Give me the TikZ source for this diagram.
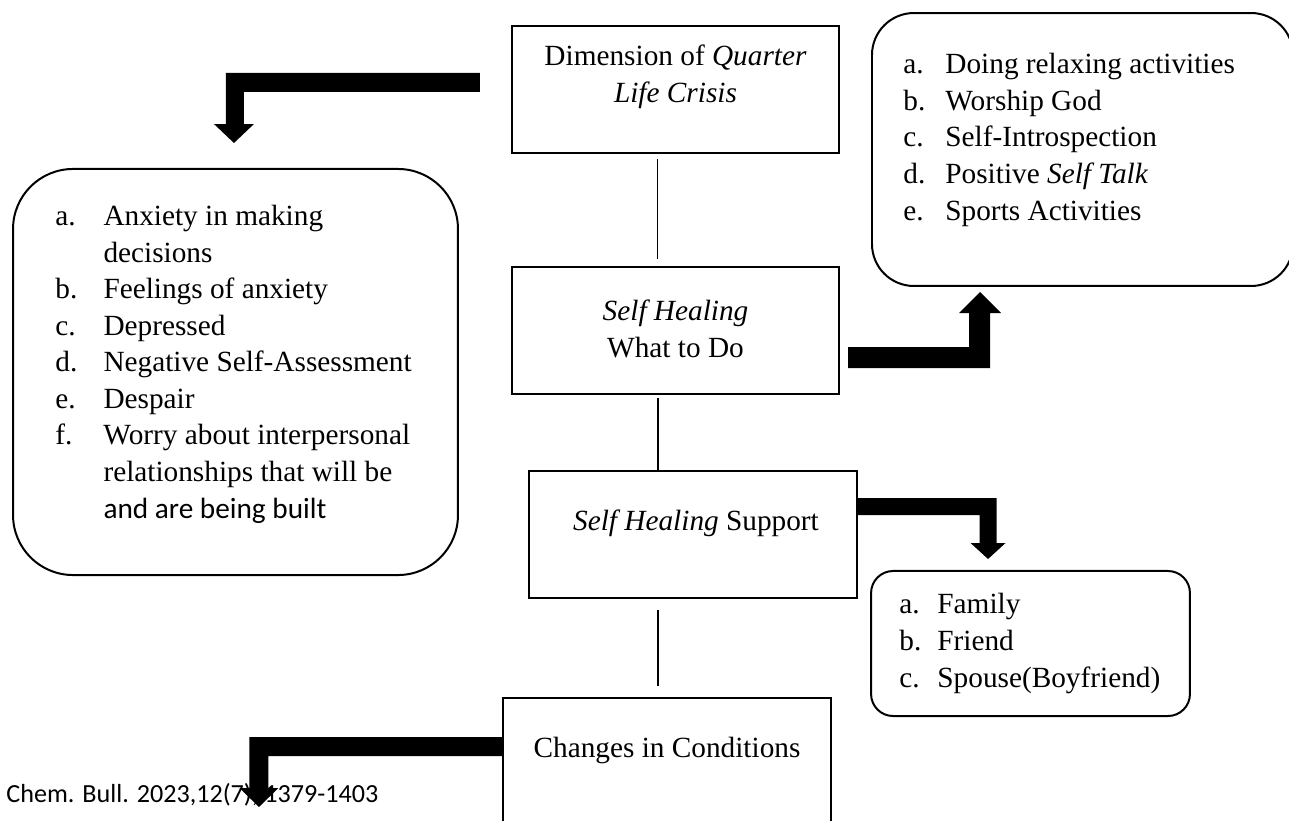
\documentclass[tikz,border=0pt]{standalone}
\usepackage{fontspec}
\setmainfont{Liberation Serif}
\newfontfamily\calfont{Carlito}
\usetikzlibrary{calc}
\newcommand{\lbl}[3]{\makebox[#1][l]{#2}#3}

\begin{document}
\begin{tikzpicture}[x=0.4268pt,y=-0.4268pt,
    flowbox/.style={draw,line width=0.85pt,minimum width=139.6pt,minimum height=54.2pt,inner sep=0pt},
    listbox/.style={draw,line width=0.85pt,inner sep=0pt},
    boxtext/.style={inner sep=0pt,align=center,anchor=base,font=\fontsize{12.5}{15.6}\selectfont},
    listtext/.style={inner sep=0pt,align=left,anchor=base west,font=\fontsize{12.5}{15.6}\selectfont},
    link/.style={line width=0.45pt},
    bigarrow/.style={fill=black}]
    \useasboundingbox (0,0) rectangle (1289,820);

    %kotak tengah
    \node[flowbox] (dim) at (675.5,89.5) {};
    \node[flowbox] (what) at (675.5,330.5) {};
    \node[flowbox] (support) at (693,534.5) {};
    \node[flowbox] (change) at (667,761.5) {};
    % base = baris terakhir
    \node[boxtext] (dimtext) at (675.5,102) {Dimension of \textit{Quarter}\\\textit{Life Crisis}};
    \node[boxtext] (whattext) at (675.5,357) {\textit{Self Healing}\\What to Do};
    \node[boxtext] (supporttext) at (696,530) {\textit{Self Healing} Support};
    \node[boxtext] (changetext) at (667,757) {Changes in Conditions};

    %kotak daftar
    \node[listbox,rounded corners=25.6pt,minimum width=189.9pt,minimum height=173.3pt] (causes) at (235.5,372) {};
    \node[listbox,rounded corners=17.9pt,minimum width=179.7pt,minimum height=116.5pt] (actions) at (1082.5,149.5) {};
    \node[listbox,rounded corners=9.4pt,minimum width=136.1pt,minimum height=61.9pt] (family) at (1030.5,643.5) {};
    \node[listtext] (causestext) at (55,518) {\lbl{20.5pt}{a.}{Anxiety in making}\\
        \hspace*{20.5pt}decisions\\
        \lbl{20.5pt}{b.}{Feelings of anxiety}\\
        \lbl{20.5pt}{c.}{Depressed}\\
        \lbl{20.5pt}{d.}{Negative Self-Assessment}\\
        \lbl{20.5pt}{e.}{Despair}\\
        \lbl{20.5pt}{f.}{Worry about interpersonal}\\
        \hspace*{20.5pt}relationships that will be\\
        \hspace*{20.5pt}{\calfont and are being built}};
    \node[listtext] (actionstext) at (903,220) {\lbl{17.9pt}{a.}{Doing relaxing activities}\\
        \lbl{17.9pt}{b.}{Worship God}\\
        \lbl{17.9pt}{c.}{Self-Introspection}\\
        \lbl{17.9pt}{d.}{Positive \textit{Self Talk}}\\
        \lbl{17.9pt}{e.}{Sports Activities}};
    \node[listtext] (familytext) at (899,687) {\lbl{16.2pt}{a.}{Family}\\
        \lbl{16.2pt}{b.}{Friend}\\
        \lbl{16.2pt}{c.}{Spouse(Boyfriend)}};

    \node[inner sep=0pt,anchor=base west,font=\calfont\fontsize{11.15}{13}\selectfont] (footer) at (6,802) {Chem. Bull. 2023,12(7), 1379-1403};

    %garis penghubung
    \draw[link] ($(dim.south)+(-18,5)$) -- ($(what.north)+(-18,-7)$);
    \draw[link] ($(what.south)+(-17.5,3)$) -- ($(support.north)+(-35,2)$);
    \draw[link] ($(support.south)+(-35,11)$) -- ($(change.north)+(-9,-11)$);

    %panah tebal
    \fill[bigarrow] ($(dim.west)+(-31,-16.5)$)--++(-254,0)--++(0,51)--++(-12,0)--++(20,19)--++(20,-19)--++(-10,0)--++(0,-32)--++(236,0)--cycle;
    \fill[bigarrow] ($(what.east)+(8,16.5)$)--++(121,0)--++(0,-34)--++(-10,0)--++(21,-21)--++(21,21)--++(-11,0)--++(0,55)--++(-142,0)--cycle;
    \fill[bigarrow] ($(support.east)+(0,-36.5)$)--++(139,0)--++(0,45)--++(9,0)--++(-17.5,16)--++(-17.5,-16)--++(9,0)--++(0,-28)--++(-122,0)--cycle;
    \fill[bigarrow] ($(change.west)+(0,-24.5)$)--++(-253,0)--++(0,51)--++(-10,0)--++(19.5,19)--++(19.5,-19)--++(-10,0)--++(0,-32)--++(234,0)--cycle;
\end{tikzpicture}
\end{document}
